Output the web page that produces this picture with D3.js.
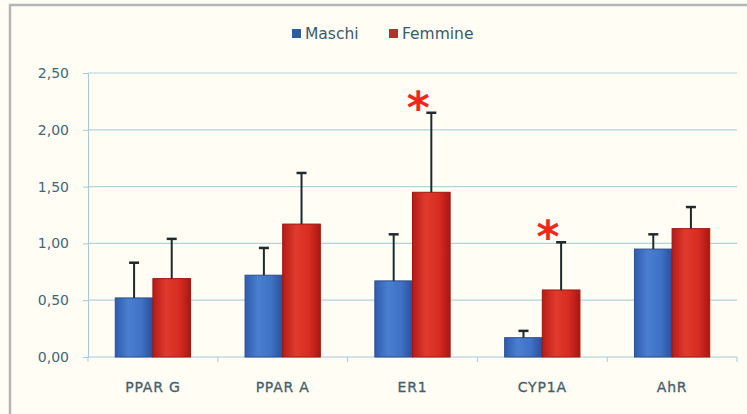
<!DOCTYPE html>
<html>
<head>
<meta charset="utf-8">
<script src="https://cdn.jsdelivr.net/npm/d3@7/dist/d3.min.js"></script>
<style>
  html, body { margin: 0; padding: 0; background: #fffdf4; }
  svg { display: block; }
</style>
</head>
<body>
<svg id="chart" width="747" height="414"></svg>
<script>
// Gene expression by sex
const categories = ["PPAR G", "PPAR A", "ER1", "CYP1A", "AhR"];
const seriesNames = ["Maschi", "Femmine"];
const maschi = [0.52, 0.72, 0.67, 0.17, 0.95];
const femmine = [0.69, 1.17, 1.45, 0.59, 1.13];
// upper whisker end (mean + error)
const maschiTop = [0.83, 0.96, 1.08, 0.23, 1.08];
const femmineTop = [1.04, 1.62, 2.15, 1.01, 1.32];
// significance markers: [category, series]
const significant = [["ER1", "Femmine"], ["CYP1A", "Femmine"]];
const yTicks = [0, 0.5, 1.0, 1.5, 2.0, 2.5];

const svg = d3.select("#chart");
const W = 747, H = 414;
const m = { left: 88, right: 10, top: 73, bottom: 57 };
const font = "'DejaVu Sans', Verdana, sans-serif";

svg.append("rect").attr("width", W).attr("height", H).attr("fill", "#fffdf4");
// outer frame (top and left edges visible)
svg.append("path")
  .attr("d", `M10,${H} V5 H${W}`)
  .attr("fill", "none").attr("stroke", "#b3b6b7").attr("stroke-width", 2.5);

const x0 = d3.scaleBand().domain(categories).range([m.left, W - m.right]).paddingInner(0.42).paddingOuter(0.21);
const x1 = d3.scaleBand().domain(seriesNames).range([0, x0.bandwidth()]);
const y = d3.scaleLinear().domain([0, 2.5]).range([H - m.bottom, m.top]);

const fmt = v => d3.format(".2f")(v).replace(".", ",");

// gridlines
svg.append("g").selectAll("line").data(yTicks.slice(1)).join("line")
  .attr("x1", m.left).attr("x2", W - m.right)
  .attr("y1", d => y(d)).attr("y2", d => y(d))
  .attr("stroke", "#b2d2df").attr("stroke-width", 1.2);

// y axis
const yAxis = svg.append("g").attr("transform", `translate(${m.left},0)`)
  .call(d3.axisLeft(y).tickValues(yTicks).tickFormat(fmt).tickSize(5).tickPadding(14));
yAxis.select(".domain").attr("stroke", "#a9c9d8");
yAxis.selectAll(".tick line").attr("stroke", "#a9c9d8");
yAxis.selectAll("text").attr("fill", "#3f6779").attr("font-family", font).attr("font-size", 14);

// x axis baseline with boundary ticks
const xBase = y(0);
svg.append("line").attr("x1", m.left).attr("x2", W - m.right).attr("y1", xBase).attr("y2", xBase)
  .attr("stroke", "#a9c9d8").attr("stroke-width", 1.2);
const bounds = d3.range(categories.length + 1).map(i => m.left + i * (W - m.left - m.right) / categories.length);
svg.append("g").selectAll("line").data(bounds).join("line")
  .attr("x1", d => d).attr("x2", d => d).attr("y1", xBase).attr("y2", xBase + 5)
  .attr("stroke", "#a9c9d8");

// category labels
svg.append("g").selectAll("text").data(categories).join("text")
  .attr("x", d => x0(d) + x0.bandwidth() / 2).attr("y", xBase + 35)
  .attr("text-anchor", "middle").attr("fill", "#44606d")
  .attr("font-family", font).attr("font-size", 14).attr("letter-spacing", 0.8)
  .attr("stroke", "#44606d").attr("stroke-width", 0.3)
  .text(d => d);

// gradients for bars
const defs = svg.append("defs");
function grad(id, stops) {
  const g = defs.append("linearGradient").attr("id", id).attr("x1", 0).attr("x2", 1).attr("y1", 0).attr("y2", 0);
  stops.forEach(([o, c]) => g.append("stop").attr("offset", o).attr("stop-color", c));
}
grad("gBlue", [[0, "#2f5cae"], [0.35, "#4a7fd0"], [0.7, "#3f71c4"], [1, "#2a4f9a"]]);
grad("gRed", [[0, "#b71b16"], [0.35, "#e03a2e"], [0.7, "#d72c22"], [1, "#a91712"]]);

const rows = categories.map((c, i) => ({
  cat: c,
  vals: [
    { s: "Maschi", v: maschi[i], top: maschiTop[i], fill: "url(#gBlue)", edge: "#2b4d8f" },
    { s: "Femmine", v: femmine[i], top: femmineTop[i], fill: "url(#gRed)", edge: "#a0160f" }
  ]
}));

const groups = svg.append("g").selectAll("g").data(rows).join("g")
  .attr("transform", d => `translate(${x0(d.cat)},0)`);

groups.selectAll("rect").data(d => d.vals).join("rect")
  .attr("x", d => x1(d.s)).attr("width", x1.bandwidth())
  .attr("y", d => y(d.v)).attr("height", d => y(0) - y(d.v))
  .attr("fill", d => d.fill).attr("stroke", d => d.edge).attr("stroke-width", 1);

// error bars (upper only)
const eb = groups.selectAll("g.err").data(d => d.vals).join("g").attr("class", "err");
eb.append("line")
  .attr("x1", d => x1(d.s) + x1.bandwidth() / 2).attr("x2", d => x1(d.s) + x1.bandwidth() / 2)
  .attr("y1", d => y(d.v)).attr("y2", d => y(d.top))
  .attr("stroke", "#1f2a2c").attr("stroke-width", 2);
eb.append("line")
  .attr("x1", d => x1(d.s) + x1.bandwidth() / 2 - 5).attr("x2", d => x1(d.s) + x1.bandwidth() / 2 + 5)
  .attr("y1", d => y(d.top)).attr("y2", d => y(d.top))
  .attr("stroke", "#1f2a2c").attr("stroke-width", 2.5);

// significance asterisks, just above and left of the whisker cap
const femTopByCat = Object.fromEntries(categories.map((c, i) => [c, femmineTop[i]]));
svg.append("g").selectAll("text").data(significant).join("text")
  .attr("x", d => x0(d[0]) + x1(d[1]) + x1.bandwidth() / 2 - 13)
  .attr("y", d => y(femTopByCat[d[0]]) + 10)
  .attr("text-anchor", "middle").attr("fill", "#f0281c")
  .attr("font-family", font).attr("font-size", 44).attr("font-weight", "bold")
  .text("*");

// legend
const legend = svg.append("g").attr("font-family", font).attr("font-size", 15.5);
const legItems = [
  { name: "Maschi", x: 292, color: "#2e5c9f" },
  { name: "Femmine", x: 389, color: "#b5302a" }
];
legItems.forEach(d => {
  legend.append("rect").attr("x", d.x).attr("y", 29).attr("width", 9).attr("height", 9).attr("fill", d.color);
  legend.append("text").attr("x", d.x + 13).attr("y", 39).attr("fill", "#3a5a6e").text(d.name);
});
</script>
</body>
</html>
